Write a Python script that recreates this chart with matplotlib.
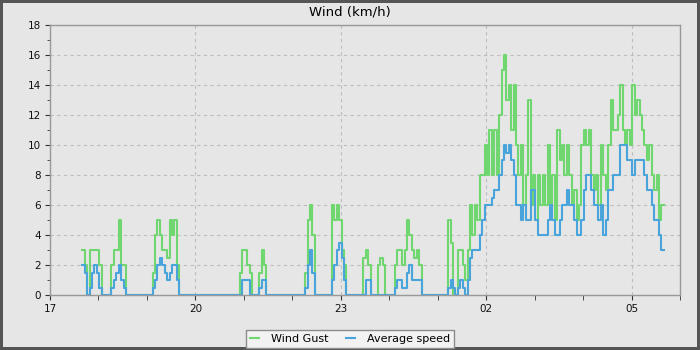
import numpy as np
import pandas as pd
import matplotlib
matplotlib.use('Agg')
import matplotlib.pyplot as plt
import matplotlib.dates as mdates

# Wind readings, one sample every 3 minutes starting 17:40 (20 samples per row)
start = '2024-01-01 17:40'
wind_gust = [
    3, 2, 0, 3, 3, 3, 3, 2, 0, 0, 0, 0, 2, 3, 3, 5, 2, 2, 0, 0,           # 17:40
    0, 0, 0, 0, 0, 0, 0, 0, 0, 1.5, 4, 5, 4, 3, 3, 2.5, 5, 4, 5, 2,       # 18:40
    0, 0, 0, 0, 0, 0, 0, 0, 0, 0, 0, 0, 0, 0, 0, 0, 0, 0, 0, 0,           # 19:40
    0, 0, 0, 0, 0, 1.5, 3, 3, 2, 1.5, 0, 0, 0, 1.5, 3, 2, 0, 0, 0, 0,     # 20:40
    0, 0, 0, 0, 0, 0, 0, 0, 0, 0, 0, 0, 1.5, 5, 6, 4, 0, 0, 0, 0,         # 21:40
    0, 0, 0, 6, 5, 6, 5, 3, 2, 0, 0, 0, 0, 0, 0, 0, 2.5, 3, 2, 0,         # 22:40
    0, 0, 2, 2.5, 2, 0, 0, 0, 0, 2, 3, 3, 2, 3, 5, 4, 3, 2.5, 3, 2,       # 23:40
    0, 0, 0, 0, 0, 0, 0, 0, 0, 0, 0, 5, 3.5, 0, 0, 3, 3, 2, 1, 3,         # 00:40
    6, 4, 6, 5, 8, 8, 10, 8, 11, 8, 11, 8, 12, 15, 16, 13, 14, 11, 14, 10,  # 01:40
    8, 10, 6, 8, 13, 6, 8, 5, 8, 6, 8, 6, 10, 6, 8, 5, 11, 9, 10, 8,     # 02:40
    10, 8, 6, 7, 5, 6, 10, 11, 10, 11, 8, 7, 8, 6, 10, 8, 7, 10, 13, 11,  # 03:40
    11, 12, 14, 11, 10, 11, 10, 14, 12, 13, 12, 11, 10, 9, 10, 8, 7, 8, 5, 6,  # 04:40
]
avg_speed = [
    2, 1.5, 0, 0.5, 1.5, 2, 1.5, 0.5, 0, 0, 0, 0, 0.5, 1, 1.5, 2, 1, 0.5, 0, 0,
    0, 0, 0, 0, 0, 0, 0, 0, 0, 0.5, 1, 2, 2.5, 2, 1.5, 1, 1.5, 2, 2, 1,
    0, 0, 0, 0, 0, 0, 0, 0, 0, 0, 0, 0, 0, 0, 0, 0, 0, 0, 0, 0,
    0, 0, 0, 0, 0, 0, 1, 1, 1, 0, 0, 0, 0, 0.5, 1, 1, 0, 0, 0, 0,
    0, 0, 0, 0, 0, 0, 0, 0, 0, 0, 0, 0, 0.5, 2, 3, 1.5, 0, 0, 0, 0,
    0, 0, 0, 1, 2, 3, 3.5, 2.5, 1, 0, 0, 0, 0, 0, 0, 0, 0, 1, 1, 0,
    0, 0, 0, 0, 0, 0, 0, 0, 0, 0.5, 1, 1, 0.5, 0.5, 1.5, 2, 1, 1, 1, 1,
    0, 0, 0, 0, 0, 0, 0, 0, 0, 0, 0, 0.5, 1, 0.5, 0, 0.5, 1, 0.5, 0, 1,
    2.5, 3, 3, 3, 4, 5, 6, 6, 6, 6.5, 7, 7, 8, 9, 10, 9.5, 10, 9, 8, 6,
    6, 5, 6, 5, 5, 7, 7, 5, 4, 4, 4, 4, 5, 6, 5, 4, 4, 5, 6, 6,
    7, 6, 6, 5, 4, 4, 5, 7, 8, 8, 7, 6, 6, 5, 6, 4, 5, 7, 7, 8,
    8, 8, 10, 10, 10, 9, 9, 8, 9, 9, 9, 9, 8, 7, 7, 6, 5, 5, 4, 3,
]
major_hours = [17, 20, 23, 2, 5]

bg = '#e6e6e6'
times = pd.date_range(start, periods=len(wind_gust) + 1, freq='3min')
gust = np.append(wind_gust, wind_gust[-1])
avg = np.append(avg_speed, avg_speed[-1])

fig = plt.figure(figsize=(7, 3.5), dpi=100, facecolor=bg,
                 edgecolor='#555555', linewidth=3)
ax = fig.add_axes([50 / 700, 55 / 350, 630 / 700, 270 / 350])
ax.set_facecolor(bg)

ax.step(times, gust, where='post', color='#70d670', lw=1.5, label='Wind Gust')
ax.step(times, avg, where='post', color='#4aa4dc', lw=1.5, label='Average speed')

ax.set_xlim(pd.Timestamp('2024-01-01 17:00'), pd.Timestamp('2024-01-02 06:00'))
ax.set_ylim(0, 18)
ax.set_yticks(range(0, 19, 2))
ax.set_yticks(range(1, 18, 2), minor=True)
ax.xaxis.set_major_locator(mdates.HourLocator(byhour=major_hours))
ax.xaxis.set_minor_locator(mdates.HourLocator())
ax.xaxis.set_major_formatter(mdates.DateFormatter('%H'))

ax.grid(True, which='major', color='#bdbdbd', linestyle=(0, (3, 3)), lw=0.8)
ax.set_axisbelow(True)
for s in ax.spines.values():
    s.set_color('#999999')
    s.set_linewidth(1)
ax.tick_params(which='both', color='#333333', labelsize=7.5, labelcolor='#111111', pad=3)
ax.tick_params(axis='x', which='both', length=3.6)
ax.tick_params(axis='y', which='major', length=3.6)
ax.tick_params(axis='y', which='minor', length=2.2)

fig.text(0.5, 1 - 12 / 350, 'Wind (km/h)', ha='center', va='center', fontsize=9.5)

leg = fig.legend(loc='lower center', bbox_to_anchor=(0.5, 0.005), ncol=2, fontsize=8,
                 frameon=True, fancybox=False, edgecolor='#8c8c8c', facecolor='#f2f2f2',
                 framealpha=1, handlelength=0.8, handletextpad=1.1, columnspacing=1.6,
                 borderpad=0.35, borderaxespad=0)
leg.get_frame().set_linewidth(1)

fig.savefig('out.png', dpi=100)
